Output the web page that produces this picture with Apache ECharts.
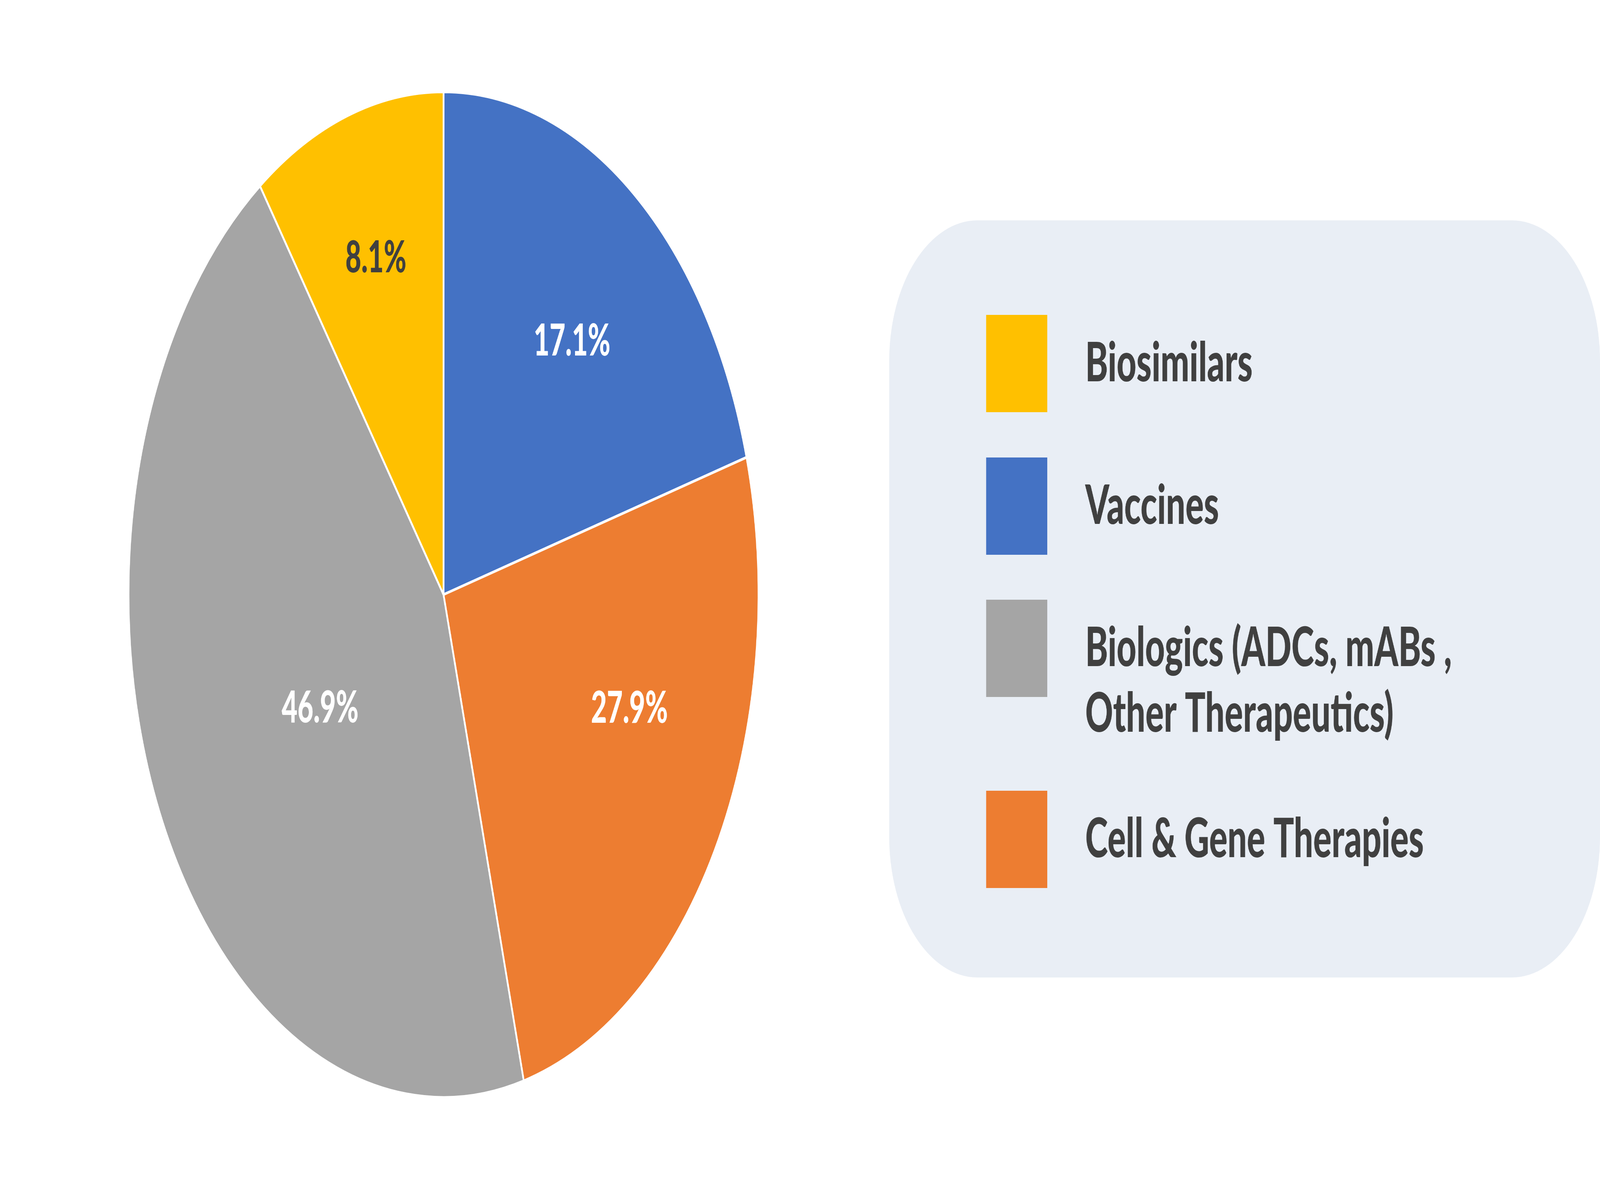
<!DOCTYPE html>
<html>
<head>
<meta charset="utf-8">
<script src="https://cdn.jsdelivr.net/npm/echarts@6/dist/echarts.min.js"></script>
<style>
  html, body { margin: 0; padding: 0; background: #ffffff; overflow: hidden; }
  /* the chart is laid out on a 6537 x 3069 stage and fitted to the window */
  #chart { width: 6537px; height: 3069px; transform-origin: 0 0; }
</style>
</head>
<body>
<div id="chart"></div>
<script>
// slices in drawing order, clockwise from 12 o'clock
const categories = ['Vaccines', 'Cell & Gene Therapies', 'Biologics (ADCs, mABs ,\nOther Therapeutics)', 'Biosimilars'];
// slice shares as drawn (measured from the angles in the picture)
const shares = [20.6, 25.3, 44.2, 9.9];
// percentages printed on the slices
const labelText = ['17.1%', '27.9%', '46.9%', '8.1%'];
const colors = ['#4472C4', '#ED7D31', '#A5A5A5', '#FFC000'];
const labelColors = ['#ffffff', '#ffffff', '#ffffff', '#404040'];
// legend order, top to bottom
const legendOrder = ['Biosimilars', 'Vaccines', 'Biologics (ADCs, mABs ,\nOther Therapeutics)', 'Cell & Gene Therapies'];

const FONT = 'Lato';
const TEXT_DARK = '#404040';
const STAGE_W = 6537;
const STAGE_H = 3069;

let $chart = document.getElementById('chart');
let fitStage = function () {
    let sx = window.innerWidth / STAGE_W;
    let sy = window.innerHeight / STAGE_H;
    $chart.style.transform = 'scale(' + sx + ',' + sy + ')';
};
fitStage();
window.addEventListener('resize', fitStage);

let chart = echarts.init($chart, null, { renderer: 'canvas' });

const center = [1812, 1522];
const radius = 1287;
// where each percentage sits: angle clockwise from the top, share of radius
const labelSpot = [[39, 0.646], [111, 0.63], [240, 0.45], [-17.8, 0.70]];
// top of each legend square
const legendTops = [801, 1166, 1530, 2019];
const legendLine = 168;
const iconH = 249;

// mid angle of every slice, clockwise from the top
let total = shares.reduce((a, b) => a + b, 0);
let acc = 0;
let midAngles = shares.map(v => {
    let mid = (acc + v / 2) / total * Math.PI * 2;
    acc += v;
    return mid;
});

let legends = legendOrder.map((name, i) => {
    let lines = name.split('\n').length;
    let textH = lines > 1 ? (lines * 2 - 1) * legendLine : legendLine;
    let top = legendTops[i] - Math.max(0, (textH - iconH) / 2);
    return {
        data: [name],
        left: 4024,
        top: top,
        orient: 'vertical',
        icon: 'rect',
        itemWidth: 250,
        itemHeight: iconH,
        selectedMode: false,
        itemStyle: { borderWidth: 0 },
        // blank first line keeps the square level with the first text line
        formatter: function (n) {
            return n.indexOf('\n') >= 0 ? '\n' + n : n;
        },
        textStyle: {
            fontFamily: FONT,
            fontWeight: 900,
            fontSize: 140,
            color: TEXT_DARK,
            lineHeight: legendLine,
            padding: [0, 0, 0, 150]
        }
    };
});

let option = {
    animation: false,
    backgroundColor: '#ffffff',
    color: colors,
    graphic: [{
        type: 'rect',
        z: -10,
        shape: { x: 3633, y: 564, width: 2904, height: 1938, r: 360 },
        style: { fill: '#E9EEF5' }
    }],
    legend: legends,
    series: [{
        type: 'pie',
        center: center,
        radius: radius,
        startAngle: 90,
        clockwise: true,
        silent: true,
        itemStyle: {
            borderColor: '#ffffff',
            borderWidth: 7
        },
        label: {
            show: true,
            position: 'inside',
            fontFamily: FONT,
            fontWeight: 900,
            fontSize: 112,
            formatter: function (p) {
                return labelText[p.dataIndex];
            }
        },
        labelLine: { show: false },
        labelLayout: function (p) {
            let i = p.dataIndex;
            let a = labelSpot[i][0] * Math.PI / 180;
            let r = labelSpot[i][1] * radius;
            let r0 = 0.5 * radius;
            return {
                dx: r * Math.sin(a) - r0 * Math.sin(midAngles[i]),
                dy: -r * Math.cos(a) + r0 * Math.cos(midAngles[i])
            };
        },
        data: categories.map((name, i) => ({
            name: name,
            value: shares[i],
            label: { color: labelColors[i] }
        }))
    }]
};

chart.setOption(option);
</script>
</body>
</html>
